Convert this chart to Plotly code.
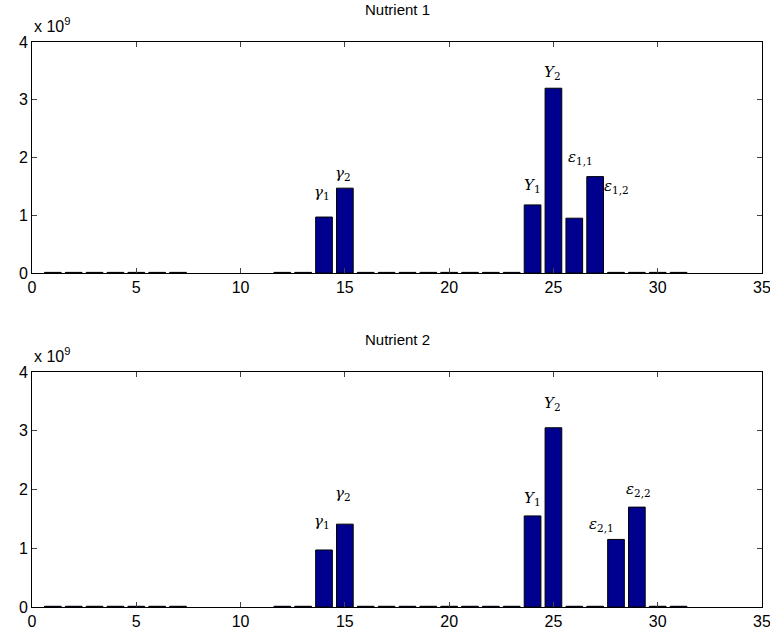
import plotly.graph_objects as go
from plotly.subplots import make_subplots

positions = list(range(1, 32))
small = 1.2e7
n1_values = [small]*7 + [None]*4 + [small, small, 0.97e9, 1.47e9] + [small]*8 + [1.18e9, 3.20e9, 0.95e9, 1.67e9] + [small]*4
n2_values = [small]*7 + [None]*4 + [small, small, 0.97e9, 1.41e9] + [small]*8 + [1.55e9, 3.05e9, small, small, 1.15e9, 1.70e9] + [small]*2

n1_labels = [("<i>γ</i><sub>1</sub>", 13.9, 1.40e9), ("<i>γ</i><sub>2</sub>", 14.9, 1.73e9),
             ("<i>Y</i><sub>1</sub>", 24.0, 1.52e9), ("<i>Y</i><sub>2</sub>", 24.95, 3.48e9),
             ("<i>ε</i><sub>1,1</sub>", 26.3, 2.0e9), ("<i>ε</i><sub>1,2</sub>", 28.0, 1.5e9)]
n2_labels = [("<i>γ</i><sub>1</sub>", 13.9, 1.45e9), ("<i>γ</i><sub>2</sub>", 14.9, 1.94e9),
             ("<i>Y</i><sub>1</sub>", 24.0, 1.85e9), ("<i>Y</i><sub>2</sub>", 24.95, 3.47e9),
             ("<i>ε</i><sub>2,1</sub>", 27.3, 1.4e9), ("<i>ε</i><sub>2,2</sub>", 29.1, 2.0e9)]

titles = ["Nutrient 1", "Nutrient 2"]
bar_color = "rgb(0,0,143)"
tick_font = dict(family="Liberation Sans, Arial", size=16, color="black")

fig = make_subplots(rows=2, cols=1, vertical_spacing=0.175)
for i, vals in enumerate([n1_values, n2_values], start=1):
    fig.add_trace(go.Bar(x=positions, y=vals, width=0.8,
                         marker=dict(color=bar_color, line=dict(color="black", width=1)),
                         showlegend=False), row=i, col=1)
    fig.update_xaxes(range=[0, 35], tickvals=[0, 5, 10, 15, 20, 25, 30, 35], ticks="inside", ticklen=5,
                     showline=True, linecolor="black", linewidth=1, mirror="ticks", showgrid=False, zeroline=False,
                     tickfont=tick_font, automargin=False, ticklabeloverflow="allow", row=i, col=1)
    fig.update_yaxes(range=[0, 4e9], tickvals=[0, 1e9, 2e9, 3e9, 4e9], ticktext=["0", "1", "2", "3", "4"],
                     ticks="inside", ticklen=5, showline=True, linecolor="black", linewidth=1, mirror="ticks",
                     showgrid=False, zeroline=False, tickfont=tick_font, automargin=False,
                     ticklabeloverflow="allow", row=i, col=1)

fig.update_layout(
    width=770, height=640, margin=dict(l=32, r=8, t=42, b=33),
    plot_bgcolor="white", paper_bgcolor="white", bargap=0.2,
)
fig.update_yaxes(domain=[0.591, 1.0], row=1, col=1)
fig.update_yaxes(domain=[0.0, 0.416], row=2, col=1)

for i, labels in enumerate([n1_labels, n2_labels], start=1):
    xr = "x" if i == 1 else "x2"
    yr = "y" if i == 1 else "y2"
    for txt, xv, yv in labels:
        fig.add_annotation(x=xv, y=yv, xref=xr, yref=yr, text=txt, showarrow=False,
                           font=dict(family="DejaVu Serif", size=15, color="black"))

for yd, title in [(1.0, titles[0]), (0.416, titles[1])]:
    fig.add_annotation(x=0.5, y=yd, xref="paper", yref="paper", text=title, showarrow=False,
                       yanchor="bottom", yshift=22, font=dict(family="Liberation Sans, Arial", size=15, color="black"))
    fig.add_annotation(x=0, y=yd, xref="paper", yref="paper", text="x 10<sup>9</sup>", showarrow=False,
                       xanchor="left", yanchor="bottom", yshift=5,
                       font=dict(family="Liberation Sans, Arial", size=16, color="black"))

fig.write_html("out.html")
